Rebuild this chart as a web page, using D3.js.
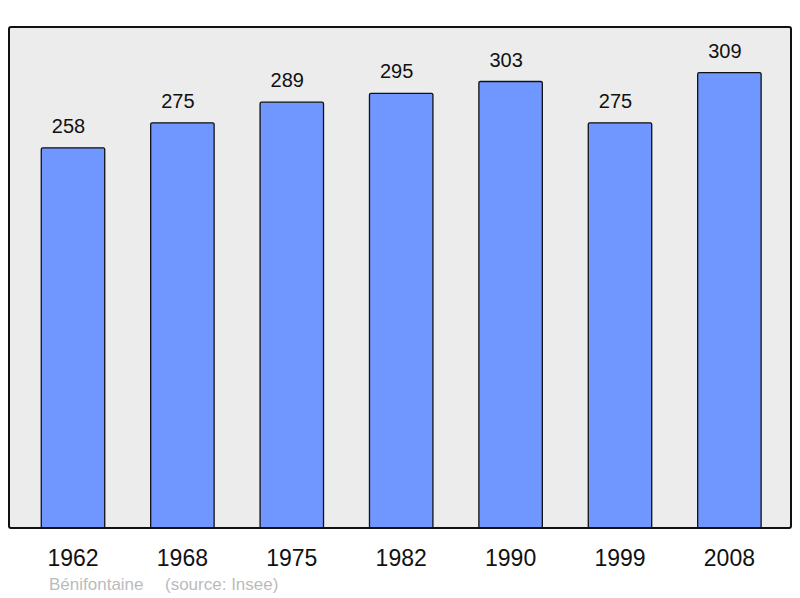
<!DOCTYPE html>
<html>
<head>
<meta charset="utf-8">
<script src="https://cdn.jsdelivr.net/npm/d3@7"></script>
<style>
  body { margin: 0; background: #fff; }
  text { font-family: "Liberation Sans", Arial, sans-serif; }
</style>
</head>
<body>
<svg id="chart" width="800" height="598"></svg>
<script>
var years = ["1962", "1968", "1975", "1982", "1990", "1999", "2008"];
var population = [258, 275, 289, 295, 303, 275, 309];
var commune = "Bénifontaine";
var source = "(source: Insee)";

var svg = d3.select("#chart");
var panel = { left: 9, top: 27, right: 791, bottom: 528 };

var x = d3.scaleBand()
    .domain(years)
    .range([18.3, 784.1])
    .paddingInner(0.42)
    .paddingOuter(0.21);

var y = d3.scaleLinear()
    .domain([0, 340])
    .range([panel.bottom, panel.top]);

// background panel
svg.append("rect")
    .attr("x", panel.left)
    .attr("y", panel.top)
    .attr("width", panel.right - panel.left)
    .attr("height", panel.bottom - panel.top)
    .attr("rx", 2)
    .style("fill", "#ececec");

var data = years.map(function (d, i) { return { year: d, value: population[i] }; });

svg.selectAll(".bar")
    .data(data)
    .enter()
    .append("rect")
    .attr("class", "bar")
    .attr("x", function (d) { return x(d.year); })
    .attr("y", function (d) { return y(d.value); })
    .attr("width", x.bandwidth())
    .attr("height", function (d) { return panel.bottom - y(d.value); })
    .attr("rx", 1.5)
    .style("fill", "#7097ff")
    .style("stroke", "#111")
    .style("stroke-width", 1.3);

// value labels (sit a little left of the bar centre, like the original)
svg.selectAll(".val")
    .data(data)
    .enter()
    .append("text")
    .attr("class", "val")
    .attr("x", function (d) { return x(d.year) + x.bandwidth() / 2 - 4.5; })
    .attr("y", function (d) { return y(d.value) - 15; })
    .attr("text-anchor", "middle")
    .attr("font-size", "20px")
    .attr("fill", "#111")
    .text(function (d) { return d.value; });

// panel border on top
svg.append("rect")
    .attr("x", panel.left)
    .attr("y", panel.top)
    .attr("width", panel.right - panel.left)
    .attr("height", panel.bottom - panel.top)
    .attr("rx", 2)
    .style("fill", "none")
    .style("stroke", "#111")
    .style("stroke-width", 2);

// year axis
var axis = d3.axisBottom(x).tickSize(0).tickPadding(0);
var g = svg.append("g")
    .attr("transform", "translate(0," + (panel.bottom + 37.5) + ")")
    .call(axis);
g.select(".domain").remove();
g.selectAll("text")
    .attr("dy", 0)
    .attr("y", 0)
    .attr("font-size", "23px")
    .attr("font-family", "Liberation Sans, Arial, sans-serif")
    .attr("fill", "#111");

svg.append("text")
    .attr("x", 49)
    .attr("y", 590)
    .attr("font-size", "17px")
    .attr("fill", "#bbbbbb")
    .text(commune);

svg.append("text")
    .attr("x", 165)
    .attr("y", 590)
    .attr("font-size", "17px")
    .attr("fill", "#bbbbbb")
    .text(source);
</script>
</body>
</html>
